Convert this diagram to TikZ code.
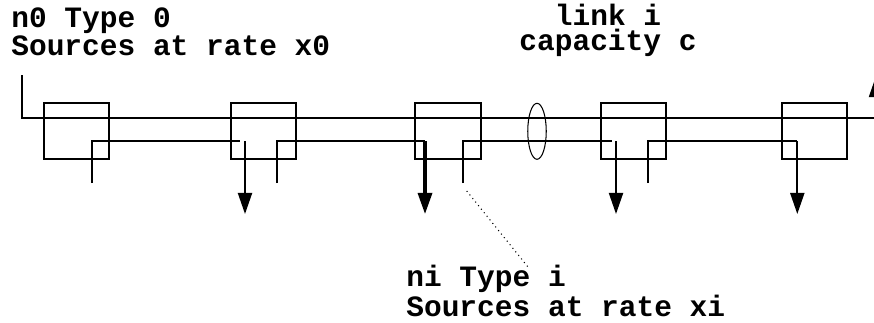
\documentclass[tikz,border=0pt]{standalone}
\usepackage{fontspec}
\setmonofont{Liberation Mono}
\usepackage{tikz}
\usetikzlibrary{
  positioning,
  arrows.meta,
  shapes.geometric
}

\begin{document}
\begin{tikzpicture}[x=0.02cm, y=-0.02cm,
  box/.style={draw, line width=1.1pt, minimum width=1.31cm, minimum height=1.12cm, inner sep=0pt},
  wire/.style={line width=1.1pt},
  drop/.style={line width=1.1pt, -{Triangle[length=12pt, width=8pt]}},
  lbl/.style={font=\ttfamily\bfseries\fontsize{16.8}{14.2}\selectfont, inner sep=0pt}
]
  \useasboundingbox (0,0) rectangle (874,322);

  \node[box] (b1) at (76.5,131.3) {};
  \node[box] (b2) at (263.3,131.3) {};
  \node[box] (b3) at (448,131.3) {};
  \node[box] (b4) at (633.7,131.3) {};
  \node[box] (b5) at (814.7,131.3) {};

  \node[draw, ellipse, line width=0.6pt, minimum width=0.37cm, minimum height=1.12cm, inner sep=0pt] (cut) at (537,131.3) {};

  \coordinate (in0) at (21.7,75);
  \coordinate (trunk) at (874,118);
  \draw[wire] (in0) |- (trunk);

  \coordinate (t1) at (91.7,183); \coordinate (e1) at (240,141);
  \coordinate (t2) at (276.7,183); \coordinate (c3) at (425,141);
  \coordinate (t3) at (462.7,183); \coordinate (e3) at (611.7,141);
  \coordinate (t4) at (648.3,183); \coordinate (c5) at (797.3,141);
  \draw[wire] (t1) |- (e1);
  \draw[wire] (t2) |- (c3);
  \draw[wire] (t3) |- (e3);
  \draw[wire] (t4) |- (c5);

  \coordinate (a2) at (245,141); \coordinate (h2) at (245,214);
  \coordinate (h3) at (425,214);
  \coordinate (a4) at (616,141); \coordinate (h4) at (616,214);
  \coordinate (h5) at (797.3,214);
  \draw[drop] (a2) -- (h2);
  \draw[drop, line width=1.8pt] (c3) -- (h3);
  \draw[drop] (a4) -- (h4);
  \draw[drop] (c5) -- (h5);

  \coordinate (up0) at (876,118); \coordinate (up1) at (876,76);
  \draw[drop] (up0) -- (up1);

  \node[lbl, anchor=base west, align=left] (n0lbl) at (11,55) {n0 Type 0\\Sources at rate x0};
  \node[lbl, anchor=base, align=center] (linklbl) at (608,50) {link i\\capacity c};
  \node[lbl, anchor=base west, align=left] (nilbl) at (406,316) {ni Type i\\Sources at rate xi};

  \coordinate (lead0) at (466.7,191); \coordinate (lead1) at (528,267);
  \draw[dotted, line width=0.6pt] (lead0) -- (lead1);
\end{tikzpicture}
\end{document}
